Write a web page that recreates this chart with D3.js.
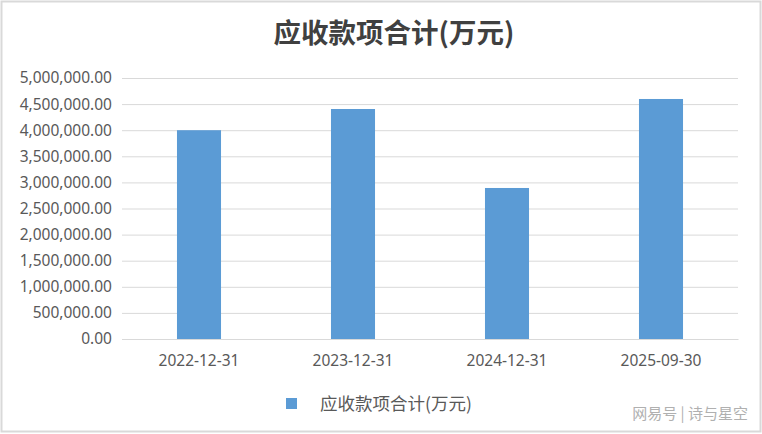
<!DOCTYPE html>
<html><head><meta charset="utf-8">
<script src="https://cdn.jsdelivr.net/npm/d3@7/dist/d3.min.js"></script>
<style>body{margin:0;background:#fff;} svg{display:block;}</style>
</head><body>
<script>
const categories = ["2022-12-31", "2023-12-31", "2024-12-31", "2025-09-30"];
const values = [4000000, 4406000, 2893000, 4598000];
const yTicks = [0, 500000, 1000000, 1500000, 2000000, 2500000, 3000000, 3500000, 4000000, 4500000, 5000000];
const title = "应收款项合计(万元)";
const seriesName = "应收款项合计(万元)";
const watermark = "网易号 | 诗与星空";

(function () {
const W = 762, H = 434;
const svg = d3.select("body").append("svg").attr("width", W).attr("height", H);
svg.append("rect").attr("x", 0).attr("y", 0).attr("width", W).attr("height", H).attr("fill", "#fff");
svg.append("rect").attr("x", 1.5).attr("y", 1.5).attr("width", W - 3).attr("height", H - 4)
  .attr("fill", "none").attr("stroke", "#d9d9d9").attr("stroke-width", 2);

const pL = 122, pR = 738, pT = 78, pB = 339;
const x = d3.scaleBand().domain(categories).range([pL, pR]).paddingInner(0.714).paddingOuter(0.357);
const y = d3.scaleLinear().domain([0, 5000000]).range([pB, pT]);
const fmt = d3.format(",.2f");
const numFont = "'Noto Sans', sans-serif";
const font = "'Noto Sans CJK SC', 'Noto Sans', sans-serif";

const ya = svg.append("g").attr("transform", `translate(${pL},0)`)
  .call(d3.axisLeft(y).tickValues(yTicks).tickFormat(fmt).tickSize(-(pR - pL)).tickPadding(10));
ya.select(".domain").remove();
ya.selectAll(".tick line").attr("stroke", "#d9d9d9").attr("stroke-width", 1);
ya.selectAll(".tick text").attr("fill", "#595959").style("font-family", numFont).style("font-size", "15.5px");

svg.selectAll("rect.bar").data(values).enter().append("rect").attr("class", "bar")
  .attr("x", (d, i) => x(categories[i]))
  .attr("width", x.bandwidth())
  .attr("y", d => y(d))
  .attr("height", d => pB - y(d))
  .attr("fill", "#5b9bd5");

const xa = svg.append("g").attr("transform", `translate(0,${pB})`)
  .call(d3.axisBottom(x).tickSize(0).tickPadding(16));
xa.select(".domain").attr("stroke", "#d9d9d9");
xa.selectAll(".tick text").attr("fill", "#595959").style("font-family", numFont).style("font-size", "15.5px");

svg.append("text").attr("x", 394).attr("y", 43).attr("text-anchor", "middle")
  .attr("fill", "#404040").style("font-family", font).style("font-size", "27.5px").style("font-weight", "bold")
  .text(title);

svg.append("rect").attr("x", 286).attr("y", 398).attr("width", 11).attr("height", 11).attr("fill", "#5b9bd5");
svg.append("text").attr("x", 320).attr("y", 410).attr("fill", "#595959")
  .style("font-family", font).style("font-size", "17.5px").text(seriesName);

svg.append("text").attr("x", 748).attr("y", 419).attr("text-anchor", "end").attr("fill", "#b0b0b0")
  .style("font-family", font).style("font-size", "15px").text(watermark);
})();
</script>
</body></html>
